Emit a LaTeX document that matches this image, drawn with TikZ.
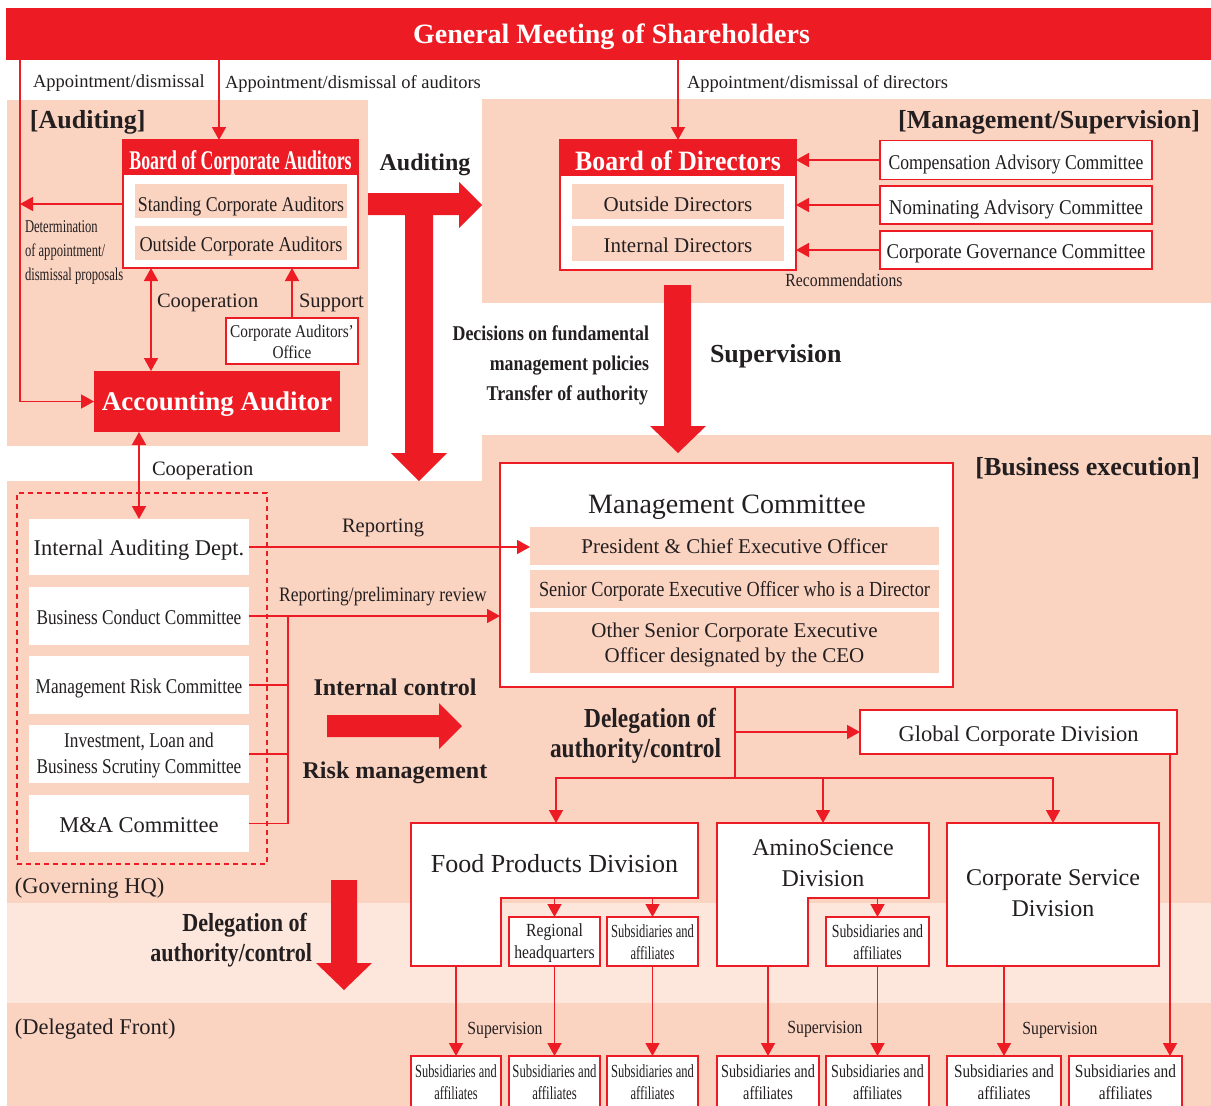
\documentclass[tikz,border=0pt]{standalone}
\usepackage{fontspec}
\usepackage{graphicx}
\setmainfont{Liberation Serif}
\newfontfamily\cnd[FakeStretch=0.85]{Liberation Serif}
\newfontfamily\cndd[FakeStretch=0.7]{Liberation Serif}
\newfontfamily\cndx[FakeStretch=0.66]{Liberation Serif}
\newfontfamily\cndb[FakeStretch=0.92]{Liberation Serif}
\usetikzlibrary{arrows.meta}
\definecolor{cred}{RGB}{237,28,36}
\definecolor{peach}{RGB}{251,211,193}
\definecolor{lpeach}{RGB}{253,230,219}
\definecolor{ink}{RGB}{35,31,32}
\newcommand\fsz[2]{\fontsize{#1}{#2}\selectfont}
\newcommand\dn[2][2.5pt]{\raisebox{-#1}[\height][\depth]{#2}}
\newcommand\twol[2]{\begin{tabular}{@{}c@{}}#1\\#2\end{tabular}}
\newcommand\sx[2]{\scalebox{#1}[1]{#2}}
\newcommand\subaff[1]{\scalebox{#1}[1]{\twol{Subsidiaries and}{affiliates}}}
\tikzset{
  base/.style={inner sep=0pt, outer sep=0pt, text=ink},
  ln/.style={draw=cred, line width=1.6pt},
  arr/.style={ln, -{Triangle[length=13pt,width=14pt]}},
  darr/.style={ln, {Triangle[length=13pt,width=14pt]}-{Triangle[length=13pt,width=14pt]}},
  wbox/.style={base, draw=cred, line width=1.6pt, fill=white, align=center},
  pbox/.style={base, fill=peach, align=center},
  plainbox/.style={base, fill=white, align=center},
  redbox/.style={base, fill=cred, text=white, align=center},
  lbl/.style={base, align=center, yshift=-2.5pt},
  bigarrow/.style={fill=cred, draw=none},
  subbox/.style={wbox, minimum height=49, font=\fsz{18.5}{22}},
  botbox/.style={wbox, minimum height=54, font=\fsz{18.5}{22}},
}
\begin{document}
\begin{tikzpicture}[x=1pt,y=-1pt]
\clip (0,0) rectangle (1211,1106);
\fill[white] (0,0) rectangle (1211,1106);
% ---------- panels
\fill[peach] (7,100) rectangle (368,446);
\fill[peach] (482,99) rectangle (1211,303);
\fill[peach] (482,435) -- (1211,435) -- (1211,1106) -- (7,1106) -- (7,481) -- (482,481) -- cycle;
\fill[lpeach] (7,903) rectangle (1211,1003);
% ---------- helper coordinates
\coordinate (x20) at (20,0);
\coordinate (x151) at (151,0);
\coordinate (x219) at (219,0);
\coordinate (x288) at (288,0);
\coordinate (x556) at (556,0);
\coordinate (x1170) at (1170,0);
\coordinate (jn) at (735,778);
% ---------- top bar
\node[redbox, minimum width=1205, minimum height=52, font=\bfseries\fsz{28}{32}] (gm) at (608.5,34) {\dn[3pt]{\hspace*{6pt}General Meeting of Shareholders}};
\node[lbl, anchor=west, font=\fsz{18.5}{22}] (l1) at (33,81) {Appointment/dismissal};
\node[lbl, anchor=west, font=\fsz{18.5}{22}] (l2) at (225,81) {Appointment/dismissal of auditors};
\node[lbl, anchor=west, font=\fsz{18.5}{22}] (l3) at (687,81) {Appointment/dismissal of directors};
% ---------- auditing
\node[lbl, anchor=west, font=\bfseries\fsz{26}{30}] (tAud) at (30,120) {[Auditing]};
\node[wbox, minimum width=235, minimum height=128] (bca) at (240.5,204) {};
\node[redbox, minimum width=235, minimum height=35, font=\cndx\bfseries\fsz{27}{30}] (bcah) at (240.5,157.5) {\dn[5pt]{Board of Corporate Auditors}};
\node[pbox, minimum width=212, minimum height=34, font=\cnd\fsz{21}{25}] (sca) at (241,201) {\dn[5pt]{Standing Corporate Auditors}};
\node[pbox, minimum width=212, minimum height=34, font=\fsz{21}{25}] (oca) at (241,243) {\dn[3pt]{\sx{0.87}{Outside Corporate Auditors}}};
\node[redbox, minimum width=246, minimum height=61, font=\bfseries\fsz{27}{30}] (aa) at (217,401.5) {\dn[3pt]{Accounting Auditor}};
\node[wbox, minimum width=132, minimum height=46, font=\cnd\fsz{18}{21}] (cao) at (292,341) {\dn[3pt]{\twol{Corporate Auditors’}{Office}}};
\node[lbl, anchor=west, align=left, font=\cndd\fsz{18}{24}] (tDet) at (25,250) {Determination\\of appointment/\\dismissal proposals};
\node[lbl, anchor=west, font=\fsz{20.5}{24}] (tCoop1) at (157,300) {Cooperation};
\node[lbl, anchor=west, font=\fsz{20.5}{24}] (tSupp) at (299,300) {Support};
\node[lbl, anchor=west, font=\fsz{20.5}{24}] (tCoop2) at (152,468) {Cooperation};
\draw[arr] (gm.south -| x219) -- (bca.north -| x219);
\draw[arr] (gm.south -| x20) |- (aa.west);
\draw[arr] (bca.west) -- (bca.west -| x20);
\draw[darr] (bca.south -| x151) -- (aa.north -| x151);
\draw[arr] (cao.north) -- (bca.south -| cao.north);
% big auditing arrow
\fill[bigarrow] (368,193) -- (459,193) -- (459,182) -- (482,205) -- (459,228) -- (459,215) -- (433,215) -- (433,453) -- (447,453) -- (419,481) -- (391,453) -- (405,453) -- (405,215) -- (368,215) -- cycle;
\node[lbl, font=\bfseries\fsz{24}{28}] (tAudA) at (425,162) {Auditing};
% ---------- management / supervision
\node[lbl, anchor=east, font=\bfseries\fsz{26}{30}] (tMS) at (1200,120) {[Management/Supervision]};
\node[wbox, minimum width=236, minimum height=130] (bod) at (678,205) {};
\node[redbox, minimum width=236, minimum height=36, font=\cndb\bfseries\fsz{28}{30}] (bodh) at (678,158) {\dn[3pt]{Board of Directors}};
\node[pbox, minimum width=212, minimum height=35, font=\fsz{21}{25}] (od) at (678,201.5) {\dn[3pt]{Outside Directors}};
\node[pbox, minimum width=212, minimum height=35, font=\fsz{21}{25}] (idr) at (678,243.5) {\dn[2pt]{Internal Directors}};
\node[wbox, minimum width=272, minimum height=39, font=\fsz{21}{25}] (cac) at (1016,160) {\dn[4pt]{\sx{0.84}{Compensation Advisory Committee}}};
\node[wbox, minimum width=272, minimum height=38, font=\fsz{21}{25}] (nac) at (1016,205) {\dn[4pt]{\sx{0.9}{Nominating Advisory Committee}}};
\node[wbox, minimum width=272, minimum height=38, font=\fsz{21}{25}] (cgc) at (1016,250) {\dn[4pt]{\sx{0.895}{Corporate Governance Committee}}};
\draw[arr] (gm.south -| bodh.north) -- (bodh.north);
\draw[arr] (cac.west) -- (cac.west -| bod.east);
\draw[arr] (nac.west) -- (nac.west -| bod.east);
\draw[arr] (cgc.west) -- (cgc.west -| bod.east);
\node[lbl, font=\cnd\fsz{18.5}{22}] (tRec) at (844,277.5) {Recommendations};
% supervision arrow
\fill[bigarrow] (664,285) -- (691,285) -- (691,426) -- (706,426) -- (678,453) -- (650,426) -- (664,426) -- cycle;
\node[lbl, anchor=east, align=right, font=\cnd\bfseries\fsz{21}{30}] (tDec) at (649,363) {Decisions on fundamental\\management policies\hspace*{4pt}\\Transfer of authority\hspace*{1pt}};
\node[lbl, anchor=west, font=\bfseries\fsz{26}{30}] (tSup) at (710,354) {Supervision};
% ---------- business execution
\node[lbl, anchor=east, font=\bfseries\fsz{26}{30}] (tBE) at (1200,466) {[Business execution]};
\node[wbox, minimum width=453, minimum height=224] (mc) at (726.5,575) {};
\node[lbl, font=\fsz{28}{32}] (mct) at (727,504.5) {Management Committee};
\node[pbox, minimum width=409, minimum height=38, font=\fsz{21}{25}] (pceo) at (734.5,546) {President \& Chief Executive Officer};
\node[pbox, minimum width=409, minimum height=38, font=\cnd\fsz{21.5}{25}] (scd) at (734.5,589) {\dn[2pt]{Senior Corporate Executive Officer who is a Director}};
\node[pbox, minimum width=409, minimum height=61, font=\fsz{21}{25}] (osc) at (734.5,642.5) {\dn[2pt]{\twol{Other Senior Corporate Executive}{Officer designated by the CEO}}};
% governing HQ committees
\node[base, draw=cred, line width=1.4pt, dash pattern=on 5pt off 4pt, minimum width=250, minimum height=371] (hq) at (142,678.5) {};
\node[plainbox, minimum width=220, minimum height=56, font=\fsz{22.5}{26}] (iad) at (139,547) {\dn[3pt]{Internal Auditing Dept.}};
\node[plainbox, minimum width=220, minimum height=58, font=\fsz{21}{26}] (bcc) at (139,616) {\dn[1pt]{\sx{0.82}{Business Conduct Committee}}};
\node[plainbox, minimum width=220, minimum height=58, font=\fsz{21}{26}] (mrc) at (139,685) {\dn[3pt]{\sx{0.82}{Management Risk Committee}}};
\node[plainbox, minimum width=220, minimum height=58, font=\fsz{21}{26}] (ilb) at (139,754) {\dn[1pt]{\sx{0.82}{\twol{Investment, Loan and}{Business Scrutiny Committee}}}};
\node[plainbox, minimum width=220, minimum height=57, font=\fsz{22.5}{26}] (mac) at (139,823.5) {\dn[2pt]{M\&A Committee}};
\draw[darr] (aa.south -| iad.north) -- (iad.north);
\draw[arr] (iad.east) -- (iad.east -| pceo.west);
\draw[arr] (bcc.east) -- (bcc.east -| mc.west);
\draw[ln] (mrc.east) -- (mrc.east -| x288);
\draw[ln] (ilb.east) -- (ilb.east -| x288);
\draw[ln] (mac.east) -- (mac.east -| x288) -- (bcc.east -| x288);
\node[lbl, font=\fsz{20.5}{24}] (tRep) at (383,525) {Reporting};
\node[lbl, font=\cnd\fsz{20.5}{24}] (tRep2) at (383,594) {Reporting/preliminary review};
% internal control arrow
\fill[bigarrow] (327,715) -- (439,715) -- (439,703) -- (462,726) -- (439,749) -- (439,737) -- (327,737) -- cycle;
\node[lbl, font=\bfseries\fsz{24}{28}] (tIC) at (395,684.5) {Internal control};
\node[lbl, font=\bfseries\fsz{24}{28}] (tRM) at (395,770) {Risk management};
\node[lbl, anchor=east, align=right, font=\cnd\bfseries\fsz{27.5}{30}] (tDel) at (721,733) {Delegation of\hspace*{5pt}\\authority/control};
\node[wbox, minimum width=317, minimum height=44, font=\fsz{22.5}{26}] (gcd) at (1018.5,732) {\dn[4.5pt]{Global Corporate Division}};
% divisions
\draw[ln, fill=white] (411,823) -- (698,823) -- (698,898) -- (501,898) -- (501,966) -- (411,966) -- cycle;
\node[base, minimum width=287, minimum height=75, font=\fsz{26}{30}] (fpd) at (554.5,860.5) {\dn[3pt]{Food Products Division}};
\draw[ln, fill=white] (717,823) -- (929,823) -- (929,898) -- (808,898) -- (808,966) -- (717,966) -- cycle;
\node[base, minimum width=212, minimum height=75, font=\fsz{24}{31}] (amd) at (823,860.5) {\dn[4pt]{\twol{AminoScience}{Division}}};
\node[wbox, minimum width=212, minimum height=143, font=\fsz{24}{31}] (csd) at (1053,894.5) {\twol{Corporate Service}{Division}};
\draw[ln] (mc.south -| jn) -- (jn);
\draw[arr] (gcd.west -| jn) -- (gcd.west);
\draw[arr] (jn) -| (fpd.north -| x556);
\draw[arr] (jn) -| (csd.north);
\draw[arr] (amd.north |- jn) -- (amd.north);
\node[subbox, minimum width=91, font=\cnd\fsz{18.5}{22}] (rhq) at (554.5,941.5) {\dn[2pt]{\twol{Regional}{headquarters}}};
\node[subbox, minimum width=91] (fs1) at (652.5,941.5) {\dn[3pt]{\subaff{0.68}}};
\node[subbox, minimum width=103] (as1) at (877.5,941.5) {\dn[3pt]{\subaff{0.75}}};
\draw[arr] (fpd.south -| rhq.north) -- (rhq.north);
\draw[arr] (fpd.south -| fs1.north) -- (fs1.north);
\draw[arr] (amd.south -| as1.north) -- (as1.north);
% bottom subsidiaries
\node[botbox, minimum width=90] (b1) at (456,1083) {\dn[1.5pt]{\subaff{0.67}}};
\node[botbox, minimum width=91] (b2) at (554.5,1083) {\dn[1.5pt]{\subaff{0.69}}};
\node[botbox, minimum width=91] (b3) at (652.5,1083) {\dn[1.5pt]{\subaff{0.68}}};
\node[botbox, minimum width=102] (b4) at (768,1083) {\dn[1.5pt]{\subaff{0.77}}};
\node[botbox, minimum width=103] (b5) at (877.5,1083) {\dn[1.5pt]{\subaff{0.76}}};
\node[botbox, minimum width=114] (b6) at (1004,1083) {\dn[1.5pt]{\subaff{0.82}}};
\node[botbox, minimum width=113] (b7) at (1125.5,1083) {\dn[1.5pt]{\subaff{0.83}}};
\draw[arr] (b1.north |- rhq.south) -- (b1.north);
\draw[arr] (rhq.south) -- (b2.north);
\draw[arr] (fs1.south) -- (b3.north);
\draw[arr] (b4.north |- as1.south) -- (b4.north);
\draw[arr] (as1.south) -- (b5.north);
\draw[arr] (b6.north |- csd.south) -- (b6.north);
\draw[arr] (gcd.south -| x1170) -- (b7.north -| x1170);
\node[lbl, font=\cnd\fsz{18.5}{22}] (sv1) at (505,1028) {Supervision};
\node[lbl, font=\cnd\fsz{18.5}{22}] (sv2) at (825,1027) {Supervision};
\node[lbl, font=\cnd\fsz{18.5}{22}] (sv3) at (1060,1028) {Supervision};
% bottom-left delegation arrow
\fill[bigarrow] (331,880) -- (357,880) -- (357,963) -- (372,963) -- (344,990) -- (316,963) -- (331,963) -- cycle;
\node[lbl, anchor=east, align=right, font=\cnd\bfseries\fsz{26}{30}] (tDel2) at (312,938) {Delegation of\hspace*{5pt}\\authority/control};
\node[lbl, anchor=west, font=\fsz{22.5}{26}] (tGHQ) at (15,886) {(Governing HQ)};
\node[lbl, anchor=west, font=\fsz{22.5}{26}] (tDF) at (15,1027) {(Delegated Front)};
\end{tikzpicture}
\end{document}
